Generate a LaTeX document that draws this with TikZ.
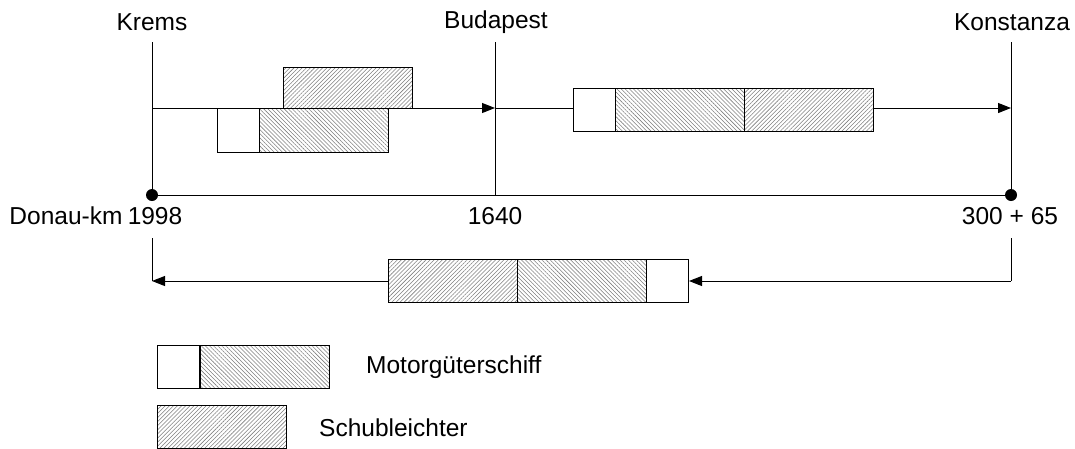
\documentclass[tikz,border=0pt]{standalone}
\usepackage{fontspec}
\setmainfont{Liberation Sans}
\usetikzlibrary{arrows.meta,patterns.meta}
\tikzset{
  lbl/.style={inner sep=0pt,font=\fontsize{24.5}{29}\selectfont},
  ln/.style={line width=1pt,draw=black},
  arr/.style={ln,-{Triangle[length=13pt,width=10pt]}},
  box/.style={draw=black,line width=1pt,inner sep=0pt,anchor=north west,minimum height=43pt,fill=white},
  cab/.style={box,minimum width=42pt},
  mot/.style={box,minimum width=129pt,preaction={fill=white},pattern={Lines[angle=-45,distance=2.9pt,line width=0.55pt]},pattern color=gray},
  schub/.style={box,minimum width=129pt,preaction={fill=white},pattern={Lines[angle=45,distance=2.9pt,line width=0.55pt]},pattern color=gray},
  dot/.style={circle,fill=black,inner sep=0pt,minimum size=12pt}
}
\begin{document}
\begin{tikzpicture}[x=1pt,y=-1pt]
\useasboundingbox (0,0) rectangle (1075,448);
% labels on top
\node[lbl] (krems) at (152,22) {Krems};
\node[lbl] (buda) at (496,22) {Budapest};
\node[lbl] (konst) at (1012,22) {Konstanza};
% axis
\coordinate (kt) at (152,42);
\coordinate (bt) at (495,42);
\coordinate (ct) at (1011,42);
\node[dot] (kd) at (152,195) {};
\coordinate (bd) at (495,195);
\node[dot] (cd) at (1011,195) {};
\draw[ln] (kt) -- (kd.center);
\draw[ln] (bt) -- (bd);
\draw[ln] (ct) -- (cd.center);
\draw[ln] (kd.center) -- (cd.center);
% km labels
\node[lbl] (dkm) at (66,216) {Donau-km};
\node[lbl] (k1998) at (155,216) {1998};
\node[lbl] (k1640) at (495,216) {1640};
\node[lbl] (k365) at (1010,216) {300 + 65};
% upstream left section
\coordinate (a1s) at (152,108);
\coordinate (a1e) at (495,108);
\draw[arr] (a1s) -- (a1e);
\node[schub,minimum height=41pt] (s1) at (283,67) {};
\node[cab,minimum height=44pt] (c1) at (217,108) {};
\node[mot,minimum height=44pt] (m1) at (259,108) {};
% upstream right section
\coordinate (a2s) at (495,108);
\coordinate (a2e) at (1011,108);
\node[cab] (c2) at (573,88) {};
\node[mot] (m2) at (615,88) {};
\node[schub] (s2) at (744,88) {};
\draw[ln] (a2s) -- (a2s -| c2.west);
\draw[arr] (s2.east |- a2e) -- (a2e);
% downstream
\coordinate (kb) at (152,238);
\coordinate (kc) at (152,281);
\coordinate (cb) at (1011,238);
\coordinate (cc) at (1011,281);
\node[schub] (s3) at (388,259) {};
\node[mot] (m3) at (517,259) {};
\node[cab] (c3) at (646,259) {};
\draw[ln] (kb) -- (kc);
\draw[ln] (cb) -- (cc);
\draw[arr] (cc) -- (cc -| c3.east);
\draw[arr] (kc -| s3.west) -- (kc);
% legend
\node[cab] (lc) at (157,345) {};
\node[mot] (lm) at (200,345) {};
\node[lbl,anchor=west] (lmt) at (366,367) {Motorgüterschiff};
\node[schub] (ls) at (157,405) {};
\node[lbl,anchor=west] (lst) at (319,428) {Schubleichter};
\end{tikzpicture}
\end{document}
